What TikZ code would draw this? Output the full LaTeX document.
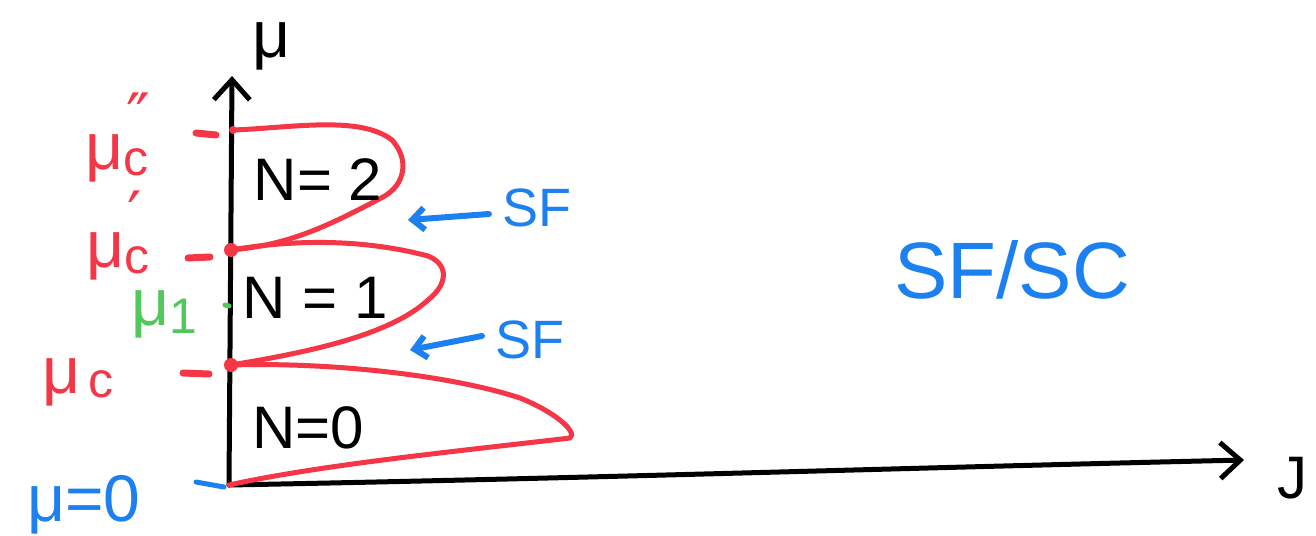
\documentclass[tikz,border=0pt]{standalone}
\usepackage{fontspec}
\setmainfont{Liberation Sans}
\newfontfamily\primefont{DejaVu Sans}
\usetikzlibrary{arrows.meta}
\definecolor{hred}{RGB}{244,54,70}
\definecolor{hblue}{RGB}{28,128,240}
\definecolor{hgreen}{RGB}{80,200,90}
\newcommand\mysub[2]{μ\raisebox{-6pt}{\fontsize{50}{50}\selectfont #1}\hspace{-22pt}\raisebox{30pt}{\fontsize{64}{50}\selectfont\primefont #2}}
\begin{document}
\begin{tikzpicture}[x=1pt,y=-1pt,line cap=round,line join=round,
  pen/.style={line width=5pt},
  axisline/.style={pen,black,-{Straight Barb[length=20pt,width=36pt]}},
  lobe/.style={pen,hred},
  sfarrow/.style={line width=6pt,hblue,-{Straight Barb[length=12pt,width=22pt]}},
  dashmark/.style={line width=7pt,hred},
  big/.style={font=\fontsize{60}{60}\selectfont},
  lab/.style={font=\fontsize{66}{66}\selectfont,inner sep=0pt},
  mid/.style={font=\fontsize{54}{54}\selectfont},
  huge/.style={font=\fontsize{80}{80}\selectfont}]
\useasboundingbox (0,0) rectangle (1316,535);
% axes
\coordinate (O) at (229,485);
\coordinate (ytop) at (232,76);
\coordinate (xend) at (1244,460);
\draw[axisline] (O) -- (ytop);
\draw[axisline] (O) .. controls (600,478) and (900,468) .. (xend);
\node[lab] (mu) at (272,46) {μ};
\node[big] (J) at (1292,478) {J};
% axis points
\coordinate (c2) at (233,130);
\coordinate (c1) at (231,250);
\coordinate (c0) at (231,365);
% lobes
\draw[lobe] (c2) .. controls (290,128) and (360,115) .. (392,140)
  .. controls (410,160) and (405,185) .. (383,197)
  .. controls (330,225) and (290,245) .. (c1);
\draw[lobe] (c1) .. controls (290,240) and (360,238) .. (428,256)
  .. controls (450,265) and (447,285) .. (428,300)
  .. controls (390,335) and (310,352) .. (c0);
\draw[lobe] (c0) .. controls (330,362) and (450,375) .. (520,398)
  .. controls (555,412) and (578,432) .. (570,438)
  .. controls (450,452) and (320,465) .. (O);
\fill[hred] (c1) circle (7pt);
\fill[hred] (c0) circle (7pt);
\fill[hred] (c2) circle (4pt);
% dashes on the axis
\draw[dashmark] (196,133) -- (216,135);
\draw[dashmark] (188,258) -- (210,257);
\draw[dashmark] (183,373) -- (209,374);
\draw[pen,hgreen] (225,305) -- (229,306);
\draw[pen,hblue] (196,482) -- (224,487);
% axis labels
\node[lab,text=hred] (mcpp) at (118,138) {\mysub{c}{″}};
\node[lab,text=hred] (mcp) at (114,236) {\mysub{c}{′}};
\node[lab,text=hgreen] (m1) at (164,314) {μ\raisebox{-8pt}{\fontsize{50}{50}\selectfont 1}};
\node[lab,text=hred] (mc) at (78,382) {μ\raisebox{-4pt}{\fontsize{50}{50}\selectfont\,c}};
\node[lab,text=hblue] (m0) at (84,505) {μ=0};
% region labels
\node[big] (n2) at (318,180) {N= 2};
\node[big] (n1) at (315,298) {N = 1};
\node[big] (n0) at (308,428) {N=0};
% SF arrows
\node[mid,text=hblue] (sf1) at (537,208) {SF};
\node[mid,text=hblue] (sf2) at (530,340) {SF};
\draw[sfarrow] (sf1.west) ++(-10,6) coordinate (a1s) -- (408,220);
\draw[sfarrow] (sf2.west) ++(-10,-4) coordinate (a2s) -- (410,350);
\node[huge,text=hblue] (sfsc) at (1012,270) {SF/SC};
\end{tikzpicture}
\end{document}
